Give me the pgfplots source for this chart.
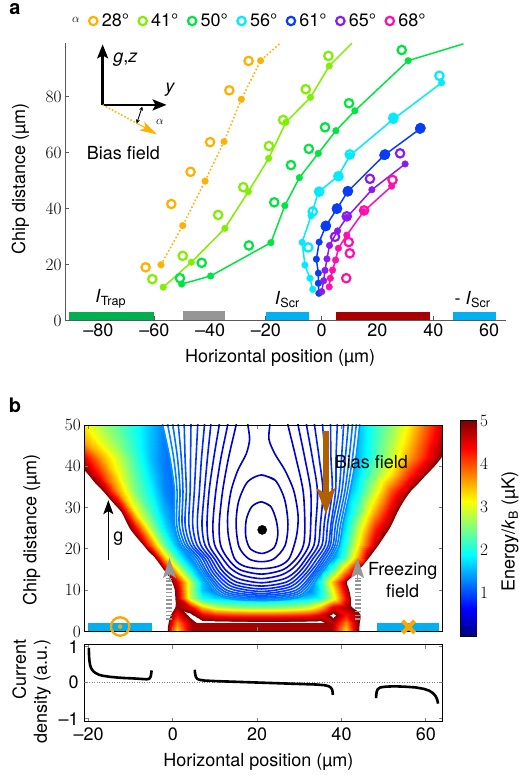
\documentclass[border=0pt]{standalone}
\usepackage{fontspec}
\setmainfont{TeX Gyre Heros}
\usepackage{pgfplots}
\pgfplotsset{compat=1.18}
\usetikzlibrary{arrows.meta}

\newcommand{\fs}{\fontsize{18}{21}\selectfont}

\definecolor{c28}{RGB}{255,176,0}
\definecolor{c41}{RGB}{128,240,0}
\definecolor{c50}{RGB}{0,228,64}
\definecolor{c56}{RGB}{0,236,252}
\definecolor{c61}{RGB}{10,60,245}
\definecolor{c65}{RGB}{140,25,240}
\definecolor{c68}{RGB}{255,15,175}
\definecolor{trapgreen}{RGB}{0,176,80}
\definecolor{scrcyan}{RGB}{0,176,240}
\definecolor{wirered}{RGB}{168,0,0}
\definecolor{bargray}{RGB}{150,150,150}
\definecolor{biasbrown}{RGB}{176,96,0}
\definecolor{markorange}{RGB}{255,165,0}
\definecolor{arrowgray}{RGB}{150,150,150}
\definecolor{edgered}{RGB}{128,0,0}

\pgfplotsset{
  every axis/.append style={font=\fs},
  tick label style={font=\fs},
  label style={font=\fs},
  open/.style={only marks, mark=o, mark size=4.2pt, line width=2.2pt},
  dot/.style={only marks, mark=*, mark size=3.3pt, forget plot},
  bigdot/.style={only marks, mark=*, mark size=4.7pt, forget plot},
  sim/.style={line width=1.5pt, forget plot},
  cline/.style={smooth, line width=1.6pt, forget plot},
}

\begin{document}
\begin{tikzpicture}
\useasboundingbox (0,0) rectangle (523pt,777pt);

\node[font=\bfseries\fontsize{20}{22}\selectfont] at (15pt,768pt) {a};
\node[font=\bfseries\fontsize{20}{22}\selectfont] at (15pt,372pt) {b};

% ---------------- panel a: trap position vs bias angle ----------------
\begin{axis}[
  at={(65pt,456.5pt)}, anchor=south west, scale only axis,
  width=440.8pt, height=277.2pt,
  xmin=-92, xmax=66, ymin=0, ymax=99,
  axis x line*=bottom, axis y line*=left,
  axis line style={draw=black!65, line width=0.9pt},
  xtick={-80,-60,...,60}, xticklabels={–80,–60,–40,–20,0,20,40,60},
  ytick={0,20,...,80},
  tick align=inside, major tick length=4pt,
  tick style={black!65, line width=0.9pt},
  xlabel={Horizontal position (µm)}, ylabel={Chip distance (µm)},
  xlabel style={at={(axis description cs:0.488,-0.135)}, anchor=center},
  ylabel style={at={(axis description cs:-0.101,0.509)}, anchor=center},
  legend columns=-1,
  legend image code/.code={\draw[mark repeat=2,mark phase=2,#1] plot coordinates {(0pt,0pt) (5pt,0pt) (10pt,0pt)};},
  legend style={draw=none, fill=none, font=\fs,
    at={(axis description cs:-0.001,1.0805)}, anchor=west,
    /tikz/every odd column/.append style={column sep=2.3pt},
    /tikz/every even column/.append style={column sep=7.5pt}},
]
\addlegendimage{empty legend}
\addlegendentry{{\fontsize{13}{15}\selectfont$\alpha$}}

% current-carrying wires
\addplot[fill=trapgreen, draw=none, forget plot] coordinates {(-90.6,0) (-60.1,0) (-60.1,3.2) (-90.6,3.2)} -- cycle;
\addplot[fill=bargray, draw=none, forget plot] coordinates {(-49.6,0) (-34.7,0) (-34.7,3.4) (-49.6,3.4)} -- cycle;
\addplot[fill=scrcyan, draw=none, forget plot] coordinates {(-20,0) (-4.6,0) (-4.6,3.2) (-20,3.2)} -- cycle;
\addplot[fill=wirered, draw=none, forget plot] coordinates {(5.1,0) (38.8,0) (38.8,3.2) (5.1,3.2)} -- cycle;
\addplot[fill=scrcyan, draw=none, forget plot] coordinates {(47.2,0) (62.5,0) (62.5,3.2) (47.2,3.2)} -- cycle;

% 28 deg
\addplot[sim, c28, dash pattern=on 1.6pt off 2.2pt] coordinates {(-57.6,19.9) (-49.8,33.9) (-41.8,49.8) (-35.0,63.9) (-28.8,79.0) (-21.9,92.8) (-14.9,99)};
\addplot[dot, c28] coordinates {(-57.6,19.9) (-49.8,33.9) (-41.8,49.8) (-35.0,63.9) (-28.8,79.0) (-21.9,92.8)};
\addplot[open, c28] coordinates {(-26.2,92.7) (-33.1,82.2) (-40.0,63.7) (-47.0,53.1) (-53.9,41.6) (-63.1,19.0)};
\addlegendentry{28°}

% 41 deg
\addplot[sim, c41] coordinates {(-56.8,11.9) (-46.7,20.8) (-34.7,32.9) (-26.3,46.0) (-19.0,57.9) (-12.8,70.8) (-4.0,79.7) (2.7,90.9) (10.8,99)};
\addplot[dot, c41] coordinates {(-56.8,11.9) (-46.7,20.8) (-34.7,32.9) (-26.3,46.0) (-19.0,57.9) (-12.8,70.8) (-4.0,79.7) (2.7,90.9)};
\addplot[open, c41] coordinates {(2.4,94.5) (-5.7,82.6) (-13.8,71.6) (-18.9,62.3) (-28.1,47.6) (-37.1,37.7) (-49.8,23.1) (-60.7,14.8)};
\addlegendentry{41°}

% 50 deg
\addplot[sim, c50] coordinates {(-50.2,13.0) (-39.8,15.9) (-18.2,27.8) (-13.2,41.0) (-8.0,51.0) (-1.2,59.7) (5.1,67.8) (11.9,74.9) (31.0,92.8) (50.8,98.8)};
\addplot[dot, c50] coordinates {(-50.2,13.0) (-39.8,15.9) (-18.2,27.8) (-13.2,41.0) (-8.0,51.0) (-1.2,59.7) (5.1,67.8) (11.9,74.9) (31.0,92.8)};
\addplot[open, c50] coordinates {(28.7,96.6) (9.8,77.6) (1.2,69.0) (-4.6,61.3) (-11.0,55.5) (-17.0,42.2) (-26.1,26.8) (-43.0,20.6) (-50.8,15.1)};
\addlegendentry{50°}

% 56 deg
\addplot[sim, c56] coordinates {(-3.2,11.1) (-4.2,15.1) (-6.0,19.8) (-7.0,27.9) (-3.8,37.4) (-1.2,45.8) (6.0,51.7) (10.1,58.9) (25.7,71.9) (43.0,84.9)};
\addplot[dot, c56] coordinates {(-3.2,11.1) (-4.2,15.1) (-6.0,19.8) (-7.0,27.9) (-3.8,37.4) (-1.2,45.8) (6.0,51.7) (10.1,58.9) (43.0,84.9)};
\addplot[bigdot, c56] coordinates {(25.7,71.9)};
\addplot[open, c56] coordinates {(42.2,87.4) (25.7,72.4) (10.1,59.3) (6.0,51.5) (-0.9,46.0) (-3.2,38.9) (-4.8,26.1)};
\addlegendentry{56°}

% 61 deg
\addplot[sim, c61] coordinates {(-1.0,9.7) (-1.2,13.3) (-1.2,16.9) (-1.9,21.9) (-0.9,28.0) (1.4,33.6) (5.4,39.8) (9.3,46.0) (22.4,59.0) (35.2,68.4)};
\addplot[dot, c61] coordinates {(-1.0,9.7) (-1.2,13.3) (-1.2,16.9) (-1.9,21.9) (-0.9,28.0)};
\addplot[bigdot, c61] coordinates {(1.4,33.6) (5.4,39.8) (9.3,46.0) (22.4,59.0) (35.2,68.4)};
\addplot[open, c61] coordinates {(35.4,68.7) (22.7,59.3) (9.4,46.2) (5.5,40.0) (1.5,33.8)};
\addlegendentry{61°}

% 65 deg
\addplot[sim, c65] coordinates {(0.0,10.3) (0.7,14.2) (1.2,17.9) (1.9,22.0) (2.8,26.8) (5.7,32.0) (9.0,36.8) (18.0,46.7) (29.9,55.9)};
\addplot[dot, c65] coordinates {(0.0,10.3) (0.7,14.2) (1.2,17.9) (1.9,22.0) (2.8,26.8) (5.7,32.0) (9.0,36.8) (18.0,46.7) (29.9,55.9)};
\addplot[open, c65] coordinates {(28.1,59.7) (17.3,50.6) (9.0,37.2) (4.8,29.9)};
\addlegendentry{65°}

% 68 deg
\addplot[sim, c68] coordinates {(2.7,12.0) (3.1,15.1) (3.9,18.0) (5.0,21.6) (6.0,25.8) (9.0,30.5) (15.0,38.9) (25.1,48.0)};
\addplot[dot, c68] coordinates {(2.7,12.0) (3.1,15.1) (3.9,18.0) (5.0,21.6) (6.0,25.8) (9.0,30.5) (15.0,38.9) (25.1,48.0)};
\addplot[open, c68] coordinates {(25.4,50.2) (15.2,39.3) (9.7,28.0) (10.1,24.0) (8.8,15.1)};
\addlegendentry{68°}

% wire labels
\node at (axis cs:-75.6,7.8) {\textit{I}\textsubscript{Trap}};
\node at (axis cs:-12.3,7.5) {\textit{I}\textsubscript{Scr}};
\node at (axis cs:54.1,7.5) {- \textit{I}\textsubscript{Scr}};

% coordinate sketch
\draw[line width=2.4pt, -{Stealth[length=14pt,width=11pt,inset=3pt]}] (axis cs:-78.5,77) -- (axis cs:-78.5,98.6);
\draw[line width=2.4pt, -{Stealth[length=14pt,width=11pt,inset=3pt]}] (axis cs:-78.5,77) -- (axis cs:-55.6,77);
\draw[c28, line width=1.6pt, dash pattern=on 1.5pt off 2pt] (axis cs:-78.5,77) -- (axis cs:-66.3,70.5);
\draw[c28, line width=1pt, -{Stealth[length=17pt,width=10pt,inset=4pt]}] (axis cs:-66.5,70.6) -- (axis cs:-59.1,66.5);
\draw[line width=0.9pt, {Stealth[length=4pt,width=4pt]}-{Stealth[length=4pt,width=4pt]}] (axis cs:-64.3,76.4) -- (axis cs:-66.3,70.4);
\node at (axis cs:-70.3,93.0) {\textit{g},\textit{z}};
\node at (axis cs:-54.3,82.3) {\textit{y}};
\node[font=\fontsize{13}{15}\selectfont] at (axis cs:-58.0,71.0) {$\alpha$};
\node at (axis cs:-71.1,59.7) {Bias field};
\end{axis}

% ---------------- panel b: energy landscape ----------------
\begin{axis}[
  at={(84.3pt,145.5pt)}, anchor=south west, scale only axis,
  width=358.4pt, height=206.5pt,
  xmin=-21, xmax=64, ymin=0, ymax=50,
  xtick={-20,0,...,60}, xticklabels={},
  ytick={0,10,...,50},
  tick align=inside, major tick length=4pt,
  axis line style={line width=0.8pt}, tick style={line width=0.8pt},
  axis on top,
  ylabel={Chip distance (µm)},
  ylabel style={at={(axis description cs:-0.1468,0.4915)}, anchor=center},
  colormap={jetw}{rgb255(0)=(0,0,128) rgb255(8)=(0,0,255) rgb255(24)=(0,255,255) rgb255(40)=(255,255,0) rgb255(56)=(255,0,0) rgb255(64)=(128,0,0) rgb255(65)=(255,255,255) rgb255(72)=(255,255,255)},
  point meta min=0, point meta max=5.625,
]
% potential energy on a grid (values above 5 are left blank)
\addplot[surf, shader=interp, mesh/cols=25, point meta=explicit] coordinates {
(-21,0)[6] (-17,0)[6] (-13,0)[6] (-9,0)[6] (-5,0)[6] (-2,0)[5.4] (1,0)[3.3] (4,0)[4.6] (7,0)[5.5] (10,0)[5.5] (14,0)[5.5] (18,0)[5.5] (21,0)[5.5] (24,0)[5.5] (28,0)[5.5] (32,0)[5.5] (35,0)[5.5] (38,0)[4.6] (41,0)[3.3] (44,0)[4.9] (48,0)[6] (52,0)[6] (56,0)[6] (60,0)[6] (64,0)[6]
(-21,2)[6] (-17,2)[6] (-13,2)[6] (-9,2)[6] (-5,2)[6] (-2,2)[5.5] (1,2)[3.7] (4,2)[4.7] (7,2)[5.3] (10,2)[5.3] (14,2)[5.3] (18,2)[5.3] (21,2)[5.3] (24,2)[5.3] (28,2)[5.3] (32,2)[5.3] (35,2)[5.3] (38,2)[4.7] (41,2)[3.7] (44,2)[4.9] (48,2)[6] (52,2)[6] (56,2)[6] (60,2)[6] (64,2)[6]
(-21,4)[6] (-17,4)[6] (-13,4)[6] (-9,4)[6] (-5,4)[6] (-2,4)[5.6] (1,4)[4.3] (4,4)[5.2] (7,4)[4.5] (10,4)[4.25] (14,4)[4.15] (18,4)[4.1] (21,4)[4.1] (24,4)[4.1] (28,4)[4.15] (32,4)[4.25] (35,4)[4.5] (38,4)[5.2] (41,4)[4.3] (44,4)[4.8] (48,4)[6] (52,4)[6] (56,4)[6] (60,4)[6] (64,4)[6]
(-21,6)[6] (-17,6)[6] (-13,6)[6] (-9,6)[6] (-5,6)[6] (-2,6)[5.8] (1,6)[4.85] (4,6)[4.5] (7,6)[3.4] (10,6)[2.85] (14,6)[2.62] (18,6)[2.52] (21,6)[2.5] (24,6)[2.52] (28,6)[2.62] (32,6)[2.85] (35,6)[3.4] (38,6)[4.5] (41,6)[4.8] (44,6)[5.2] (48,6)[6] (52,6)[6] (56,6)[6] (60,6)[6] (64,6)[6]
(-21,8)[6] (-17,8)[6] (-13,8)[6] (-9,8)[6] (-5,8)[6] (-2,8)[5.8] (1,8)[4.8] (4,8)[2.85] (7,8)[1.95] (10,8)[1.7] (14,8)[1.58] (18,8)[1.52] (21,8)[1.5] (24,8)[1.52] (28,8)[1.58] (32,8)[1.7] (35,8)[1.95] (38,8)[2.9] (41,8)[4.4] (44,8)[5.7] (48,8)[6] (52,8)[6] (56,8)[6] (60,8)[6] (64,8)[6]
(-21,10)[6] (-17,10)[6] (-13,10)[6] (-9,10)[6] (-5,10)[6] (-2,10)[5.8] (1,10)[4.75] (4,10)[2.78] (7,10)[1.58] (10,10)[1.14] (14,10)[0.99] (18,10)[0.96] (21,10)[0.95] (24,10)[0.96] (28,10)[0.99] (32,10)[1.17] (35,10)[1.85] (38,10)[3.15] (41,10)[4.65] (44,10)[5.7] (48,10)[6] (52,10)[6] (56,10)[6] (60,10)[6] (64,10)[6]
(-21,12)[6] (-17,12)[6] (-13,12)[6] (-9,12)[6] (-5,12)[6] (-2,12)[5.6] (1,12)[4.5] (4,12)[2.84] (7,12)[1.58] (10,12)[1.05] (14,12)[0.9] (18,12)[0.78] (21,12)[0.75] (24,12)[0.78] (28,12)[0.9] (32,12)[1.11] (35,12)[1.95] (38,12)[3.5] (41,12)[4.83] (44,12)[6] (48,12)[6] (52,12)[6] (56,12)[6] (60,12)[6] (64,12)[6]
(-21,15)[6] (-17,15)[6] (-13,15)[6] (-9,15)[6] (-5,15)[6] (-2,15)[4.87] (1,15)[3.2] (4,15)[1.9] (7,15)[1.15] (10,15)[0.9] (14,15)[0.7] (18,15)[0.55] (21,15)[0.5] (24,15)[0.55] (28,15)[0.7] (32,15)[0.9] (35,15)[1.23] (38,15)[2.24] (41,15)[3.64] (44,15)[4.9] (48,15)[6] (52,15)[6] (56,15)[6] (60,15)[6] (64,15)[6]
(-21,18)[6] (-17,18)[6] (-13,18)[6] (-9,18)[6] (-5,18)[5.3] (-2,18)[3.45] (1,18)[2.05] (4,18)[1.23] (7,18)[0.98] (10,18)[0.78] (14,18)[0.55] (18,18)[0.4] (21,18)[0.35] (24,18)[0.4] (28,18)[0.55] (32,18)[0.78] (35,18)[0.95] (38,18)[1.3] (41,18)[2.32] (44,18)[3.57] (48,18)[5.6] (52,18)[6] (56,18)[6] (60,18)[6] (64,18)[6]
(-21,21)[6] (-17,21)[6] (-13,21)[6] (-9,21)[6] (-5,21)[3.8] (-2,21)[2.41] (1,21)[1.49] (4,21)[1.02] (7,21)[0.85] (10,21)[0.68] (14,21)[0.45] (18,21)[0.28] (21,21)[0.22] (24,21)[0.28] (28,21)[0.45] (32,21)[0.68] (35,21)[0.85] (38,21)[1.16] (41,21)[2.08] (44,21)[3.14] (48,21)[4.66] (52,21)[6] (56,21)[6] (60,21)[6] (64,21)[6]
(-21,25)[6] (-17,25)[6] (-13,25)[6] (-9,25)[4.45] (-5,25)[2.61] (-2,25)[1.8] (1,25)[1.2] (4,25)[0.96] (7,25)[0.82] (10,25)[0.68] (14,25)[0.48] (18,25)[0.28] (21,25)[0.2] (24,25)[0.28] (28,25)[0.48] (32,25)[0.68] (35,25)[0.82] (38,25)[1.01] (41,25)[1.82] (44,25)[2.8] (48,25)[4.19] (52,25)[5.1] (56,25)[6] (60,25)[6] (64,25)[6]
(-21,29)[6] (-17,29)[6] (-13,29)[5.3] (-9,29)[3.19] (-5,29)[2.15] (-2,29)[1.53] (1,29)[1.15] (4,29)[0.95] (7,29)[0.83] (10,29)[0.7] (14,29)[0.5] (18,29)[0.32] (21,29)[0.25] (24,29)[0.32] (28,29)[0.5] (32,29)[0.7] (35,29)[0.82] (38,29)[0.95] (41,29)[1.58] (44,29)[2.33] (48,29)[3.59] (52,29)[4.63] (56,29)[5.6] (60,29)[6] (64,29)[6]
(-21,34)[6] (-17,34)[5.1] (-13,34)[3.59] (-9,34)[2.47] (-5,34)[1.83] (-2,34)[1.3] (1,34)[1.13] (4,34)[0.96] (7,34)[0.85] (10,34)[0.72] (14,34)[0.52] (18,34)[0.34] (21,34)[0.28] (24,34)[0.34] (28,34)[0.52] (32,34)[0.72] (35,34)[0.82] (38,34)[0.9] (41,34)[1.39] (44,34)[1.9] (48,34)[2.93] (52,34)[4.03] (56,34)[4.83] (60,34)[6] (64,34)[6]
(-21,38)[5.2] (-17,38)[4.19] (-13,38)[3.15] (-9,38)[2.33] (-5,38)[1.66] (-2,38)[1.26] (1,38)[1.1] (4,38)[0.95] (7,38)[0.85] (10,38)[0.72] (14,38)[0.55] (18,38)[0.38] (21,38)[0.32] (24,38)[0.38] (28,38)[0.55] (32,38)[0.72] (35,38)[0.82] (38,38)[0.9] (41,38)[1.22] (44,38)[1.71] (48,38)[2.52] (52,38)[3.31] (56,38)[4.18] (60,38)[4.91] (64,38)[6]
(-21,42)[4.5] (-17,42)[3.6] (-13,42)[2.88] (-9,42)[2.16] (-5,42)[1.52] (-2,42)[1.23] (1,42)[1.09] (4,42)[0.93] (7,42)[0.82] (10,42)[0.7] (14,42)[0.55] (18,42)[0.4] (21,42)[0.35] (24,42)[0.4] (28,42)[0.55] (32,42)[0.7] (35,42)[0.8] (38,42)[0.88] (41,42)[1.12] (44,42)[1.54] (48,42)[2.22] (52,42)[2.88] (56,42)[3.6] (60,42)[4.3] (64,42)[5.05]
(-21,46)[3.6] (-17,46)[3.02] (-13,46)[2.52] (-9,46)[2.02] (-5,46)[1.53] (-2,46)[1.24] (1,46)[1.09] (4,46)[0.93] (7,46)[0.83] (10,46)[0.72] (14,46)[0.55] (18,46)[0.42] (21,46)[0.38] (24,46)[0.43] (28,46)[0.58] (32,46)[0.72] (35,46)[0.82] (38,46)[0.88] (41,46)[1.1] (44,46)[1.54] (48,46)[2.15] (52,46)[2.73] (56,46)[3.38] (60,46)[4.1] (64,46)[4.8]
(-21,50)[3.2] (-17,50)[2.7] (-13,50)[2.33] (-9,50)[1.97] (-5,50)[1.54] (-2,50)[1.25] (1,50)[1.09] (4,50)[0.93] (7,50)[0.85] (10,50)[0.75] (14,50)[0.6] (18,50)[0.45] (21,50)[0.4] (24,50)[0.45] (28,50)[0.6] (32,50)[0.75] (35,50)[0.85] (38,50)[0.85] (41,50)[1.08] (44,50)[1.55] (48,50)[2.1] (52,50)[2.58] (56,50)[3.19] (60,50)[3.9] (64,50)[4.6]
};

% regions above the top of the scale, bounded by the 5 uK contour
\addplot[fill=white, draw=edgered, line width=1pt, smooth, forget plot] coordinates {(-25,43) (-22,40.5) (-21,39.3) (-19.9,38) (-18.3,36) (-16.4,34) (-14.3,31.5) (-12.1,29) (-11.1,27) (-10.1,25) (-8.6,23) (-6.9,21) (-5.7,19.5) (-4.2,18) (-3.1,16.5) (-2.05,15) (-0.9,13.5) (-0.06,12) (0.6,10) (0.7,8) (0.8,6) (-0.3,4) (-0.9,2) (-1.1,0) (-1.1,-4) (-1.1,-8) (-25,-8)} -- cycle;
\addplot[fill=white, draw=edgered, line width=1pt, smooth, forget plot] coordinates {(70,48) (66,45) (64.2,43) (63.5,42) (61.9,40) (60,38) (58.2,36) (56.3,34) (54.6,31.5) (53.2,29) (52.3,27) (51.3,25) (50,23) (48.7,21) (47.6,19.5) (46.5,18) (45.3,16.5) (44.05,15) (42.6,13.5) (41.15,12) (41.7,10) (42.1,8) (42.2,6) (43.5,5) (44.4,4) (44.2,2) (44.1,0) (44.1,-4) (44.1,-8) (70,-8)} -- cycle;

% open interior of the trap, where contour lines are sparse
\addplot[fill=white, draw=none, smooth, forget plot] coordinates {(-2.4,53) (-2.4,50) (-0.7,42) (0.4,34) (0.4,26) (1.8,21) (4.6,17.7) (7.0,13.8) (11.5,8.5) (21,7.5) (30.5,8.5) (34.9,13.8) (37.8,17.7) (39.5,21) (40.3,26) (42.0,34) (43.4,42) (44.3,50) (44.3,53)} -- cycle;

% contour lines of the trap
\addplot[cline, color={rgb,255:red,0;green,150;blue,255}] coordinates {(-2.4,51) (-2.4,50) (-0.7,42) (0.4,34) (0.4,26) (1.8,21) (4.6,17.7) (7.0,13.8) (11.5,8.5) (21,7.5) (30.5,8.5) (34.9,13.8) (37.8,17.7) (39.5,21) (40.3,26) (42.0,34) (43.4,42) (44.3,50) (44.3,51)};
\addplot[cline, color={rgb,255:red,0;green,132;blue,255}] coordinates {(-1.2,51) (-1.2,50) (0.2,42) (1.0,34) (0.9,26) (2.3,21) (5.1,17.7) (7.5,13.8) (11.8,8.8) (21,7.8) (30.2,8.8) (34.4,13.8) (37.3,17.7) (39.0,21) (39.8,26) (41.4,34) (42.6,42) (43.5,50) (43.5,51)};
\addplot[cline, color={rgb,255:red,0;green,114;blue,255}] coordinates {(0.0,51) (0.0,50) (1.1,42) (1.7,34) (1.5,26) (2.9,21) (5.7,17.7) (8.0,13.8) (12.2,9.15) (21,8.1) (29.8,9.15) (33.9,13.8) (36.8,17.7) (38.5,21) (39.2,26) (40.8,34) (41.8,42) (42.6,50) (42.6,51)};
\addplot[cline, color={rgb,255:red,0;green,96;blue,255}] coordinates {(1.3,51) (1.3,50) (2.0,42) (2.4,34) (2.2,26) (3.5,21) (6.3,17.7) (8.5,13.8) (12.6,9.5) (21,8.45) (29.4,9.5) (33.4,13.8) (36.2,17.7) (38.0,21) (38.6,26) (40.1,34) (40.9,42) (41.6,50) (41.6,51)};
\addplot[cline, color={rgb,255:red,0;green,80;blue,255}] coordinates {(2.7,51) (2.7,50) (2.9,42) (3.2,34) (2.9,26) (4.2,21) (7.0,17.7) (9.1,13.8) (13.0,9.9) (21,8.8) (29,9.9) (32.9,13.8) (35.6,17.7) (37.4,21) (37.9,26) (39.4,34) (40,42) (40.5,50) (40.5,51)};
\addplot[cline, color={rgb,255:red,0;green,66;blue,255}] coordinates {(4.3,51) (4.3,50) (4.2,42) (4.1,34) (3.8,26) (4.9,21) (7.6,17.7) (9.7,14.0) (13.5,10.4) (21,9.2) (28.5,10.4) (32.3,14.0) (35.0,17.7) (36.9,21) (37.5,26) (38.6,34) (38.7,42) (39.0,50) (39.0,51)};
\addplot[cline, color={rgb,255:red,0;green,52;blue,255}] coordinates {(5.9,51) (5.9,50) (5.5,42) (5.1,34) (4.7,26) (5.7,21) (8.3,17.7) (10.3,14.2) (14,10.9) (21,9.7) (28,10.9) (31.7,14.2) (34.2,17.7) (36.2,21) (36.7,26) (37.8,34) (37.5,42) (37.4,50) (37.4,51)};
\addplot[cline, color={rgb,255:red,0;green,38;blue,250}] coordinates {(7.5,51) (7.5,50) (6.8,42) (6.3,34) (5.8,26) (6.6,21) (9.0,17.7) (11.0,14.4) (14.5,11.4) (21,10.3) (27.5,11.4) (31,14.4) (33.3,17.7) (35.4,21) (35.9,26) (36.8,34) (36.2,42) (35.5,50) (35.5,51)};
\addplot[cline, color={rgb,255:red,0;green,26;blue,240}] coordinates {(9,51) (9,50) (8.2,42) (7.5,34) (6.9,26) (7.6,21) (9.8,17.7) (11.8,14.6) (15,12) (21,11.0) (27,12) (30.2,14.6) (32.5,17.7) (34.5,21) (35.0,26) (35.6,34) (34.7,42) (33.6,50) (33.6,51)};
\addplot[cline, color={rgb,255:red,0;green,14;blue,230}] coordinates {(11,51) (11,50) (9.7,42) (8.6,34) (8.1,26) (8.6,21) (10.6,17.7) (12.6,14.8) (15.5,12.8) (21,11.8) (26.5,12.8) (29.4,14.8) (31.6,17.7) (33.5,21) (33.9,26) (34.3,34) (33.1,42) (31.7,50) (31.7,51)};
\addplot[cline, color={rgb,255:red,0;green,6;blue,220}] coordinates {(13,51) (13,50) (11.4,42) (10.2,34) (9.5,26) (9.9,21) (11.8,17.7) (13.8,15.2) (16.5,13.6) (21,12.8) (25.5,13.6) (28.3,15.2) (30.5,17.7) (32.3,21) (32.7,26) (32.7,34) (31.3,42) (29.7,50) (29.7,51)};
\addplot[cline, color={rgb,255:red,0;green,0;blue,210}] coordinates {(15,51) (15,50) (13.2,42) (11.8,34) (11.0,26) (11.3,21) (13.0,17.7) (15.8,15.0) (21,13.9) (26.2,15.0) (29.3,17.7) (31.0,21) (31.3,26) (30.9,34) (29.2,42) (27.3,50) (27.3,51)};
\addplot[cline, color={rgb,255:red,0;green,0;blue,200}] coordinates {(17.8,51) (17.8,50) (18.2,46.5) (17.4,43) (15.4,39) (13.8,34) (13.0,28) (13.2,23) (14.6,17.7) (17,15.8) (21,15.2) (25,15.8) (27.6,17.7) (29.3,23) (29.7,28) (28.7,34) (26.6,39) (24.2,43) (22.8,46.5) (23.0,50) (23.0,51)};
\addplot[cline, color={rgb,255:red,0;green,0;blue,190}] coordinates {(21,37.9) (24.3,36.6) (26.5,32) (27.3,26) (26.6,20.8) (24,17.6) (21,16.9) (18,17.6) (15.7,20.5) (15.0,26) (15.6,31.5) (17.7,36.2) (21,37.9) (24.3,36.6)};
\addplot[cline, color={rgb,255:red,0;green,0;blue,180}] coordinates {(21,31.4) (23.2,30.3) (24.5,27) (24.9,23.5) (24,20.3) (21.2,18.9) (18.4,20.0) (17.3,23) (17.4,27) (18.7,30.2) (21,31.4) (23.2,30.3)};

% trap minimum
\addplot[only marks, mark=*, mark size=4.6pt, black, forget plot] coordinates {(21.2,24.6)};

% chip wires
\addplot[fill=scrcyan, draw=none, forget plot] coordinates {(-20.2,0) (-5,0) (-5,2.1) (-20.2,2.1)} -- cycle;
\addplot[fill=wirered, draw=none, forget plot] coordinates {(4.9,0) (38,0) (38,2.1) (4.9,2.1)} -- cycle;
\addplot[fill=scrcyan, draw=none, forget plot] coordinates {(48.3,0) (63.1,0) (63.1,2.1) (48.3,2.1)} -- cycle;

% current direction symbols
\addplot[only marks, mark=o, mark size=9.2pt, line width=2.4pt, markorange, forget plot] coordinates {(-12.5,1.2)};
\addplot[only marks, mark=*, mark size=2pt, markorange, forget plot] coordinates {(-12.5,1.2)};
\addplot[only marks, mark=x, mark size=8.5pt, line width=4pt, markorange, forget plot] coordinates {(55.9,1.1)};

% field arrows
\draw[biasbrown, line width=6pt, -{Stealth[length=26pt,width=19pt,inset=6pt]}] (axis cs:36.3,48.6) -- (axis cs:36.3,28.4);
\draw[arrowgray, line width=6pt, dash pattern=on 1.6pt off 2.2pt] (axis cs:-0.8,2.8) -- (axis cs:-0.8,13.0);
\draw[arrowgray, line width=1pt, -{Stealth[length=20pt,width=13pt,inset=4pt]}] (axis cs:-0.8,12.5) -- (axis cs:-0.8,17.8);
\draw[arrowgray, line width=6pt, dash pattern=on 1.6pt off 2.2pt] (axis cs:43.8,2.8) -- (axis cs:43.8,13.0);
\draw[arrowgray, line width=1pt, -{Stealth[length=20pt,width=13pt,inset=4pt]}] (axis cs:43.8,12.5) -- (axis cs:43.8,17.8);
\draw[line width=1.6pt, -{Stealth[length=14pt,width=10pt,inset=3pt]}] (axis cs:-15.3,17.3) -- (axis cs:-15.3,31.8);
\node at (axis cs:-12.9,22.6) {g};
\node at (axis cs:47.1,41.1) {Bias field};
\node at (axis cs:54.5,14.7) {Freezing};
\node at (axis cs:54.5,9.9) {field};
\end{axis}

% ---------------- colour scale ----------------
\begin{axis}[
  at={(460.7pt,141pt)}, anchor=south west, scale only axis,
  width=16pt, height=215.3pt,
  xmin=0, xmax=1, ymin=0, ymax=5,
  xtick=\empty, ytick={1,2,3,4,5},
  yticklabel pos=right,
  tick align=inside, major tick length=3pt,
  axis line style={line width=0.6pt},
  colormap/jet, point meta min=0, point meta max=5,
  ylabel={Energy/\textit{k}\textsubscript{B} (µK)},
  ylabel style={at={(axis description cs:3.08,0.485)}, anchor=center},
]
\addplot[surf, shader=interp, mesh/cols=2, point meta=explicit] coordinates {
(0,0)[0] (1,0)[0]
(0,0.625)[0.625] (1,0.625)[0.625]
(0,1.875)[1.875] (1,1.875)[1.875]
(0,3.125)[3.125] (1,3.125)[3.125]
(0,4.375)[4.375] (1,4.375)[4.375]
(0,5)[5] (1,5)[5]
};
\end{axis}

% ---------------- current density across the chip ----------------
\begin{axis}[
  at={(84.3pt,55.4pt)}, anchor=south west, scale only axis,
  width=358.4pt, height=76.7pt,
  xmin=-21, xmax=64, ymin=-1.08, ymax=1.05,
  xtick={-20,0,...,60}, xticklabels={–20,0,20,40,60},
  ytick={-1,0,1}, yticklabels={–1,0,1},
  xticklabel style={inner sep=1pt, yshift=-4.5pt},
  yticklabel style={inner sep=1pt, xshift=-4.5pt},
  tick align=inside, major tick length=4pt,
  axis line style={line width=0.8pt}, tick style={line width=0.8pt},
  xlabel={Horizontal position (µm)},
  xlabel style={at={(axis description cs:0.4855,-0.52)}, anchor=center},
  ylabel={Current\\density (a.u.)},
  ylabel style={align=right, at={(axis description cs:-0.147,0.39)}, anchor=center},
]
\addplot[gray, line width=0.8pt, dash pattern=on 1pt off 1.5pt] coordinates {(-21,0) (64,0)};
\addplot[black, line width=2.6pt] coordinates {(-19.9,0.97) (-19.9,0.85) (-19.85,0.7) (-19.75,0.58) (-19.6,0.48) (-19.4,0.41) (-19.1,0.35) (-18.7,0.3) (-18.2,0.26) (-17.5,0.22) (-16.5,0.19) (-15,0.165) (-13.3,0.145) (-11.5,0.13) (-9.5,0.12) (-7.5,0.105) (-6.2,0.095) (-5.6,0.11) (-5.35,0.15) (-5.2,0.2) (-5.1,0.27) (-5.05,0.34)};
\addplot[black, line width=2.6pt] coordinates {(5.2,0.36) (5.25,0.28) (5.35,0.21) (5.5,0.15) (5.8,0.11) (6.3,0.08) (7.5,0.06) (10,0.045) (15,0.025) (20,0.005) (25,-0.015) (30,-0.035) (34,-0.05) (36,-0.07) (37,-0.1) (37.5,-0.14) (37.8,-0.2) (37.9,-0.27) (37.95,-0.34)};
\addplot[black, line width=2.6pt] coordinates {(48.2,-0.43) (48.25,-0.33) (48.35,-0.25) (48.6,-0.18) (49.2,-0.13) (50.5,-0.11) (52.5,-0.1) (55,-0.11) (57.5,-0.13) (59.5,-0.17) (60.8,-0.22) (61.7,-0.29) (62.3,-0.37) (62.7,-0.47) (62.9,-0.58)};
\end{axis}
\end{tikzpicture}
\end{document}
